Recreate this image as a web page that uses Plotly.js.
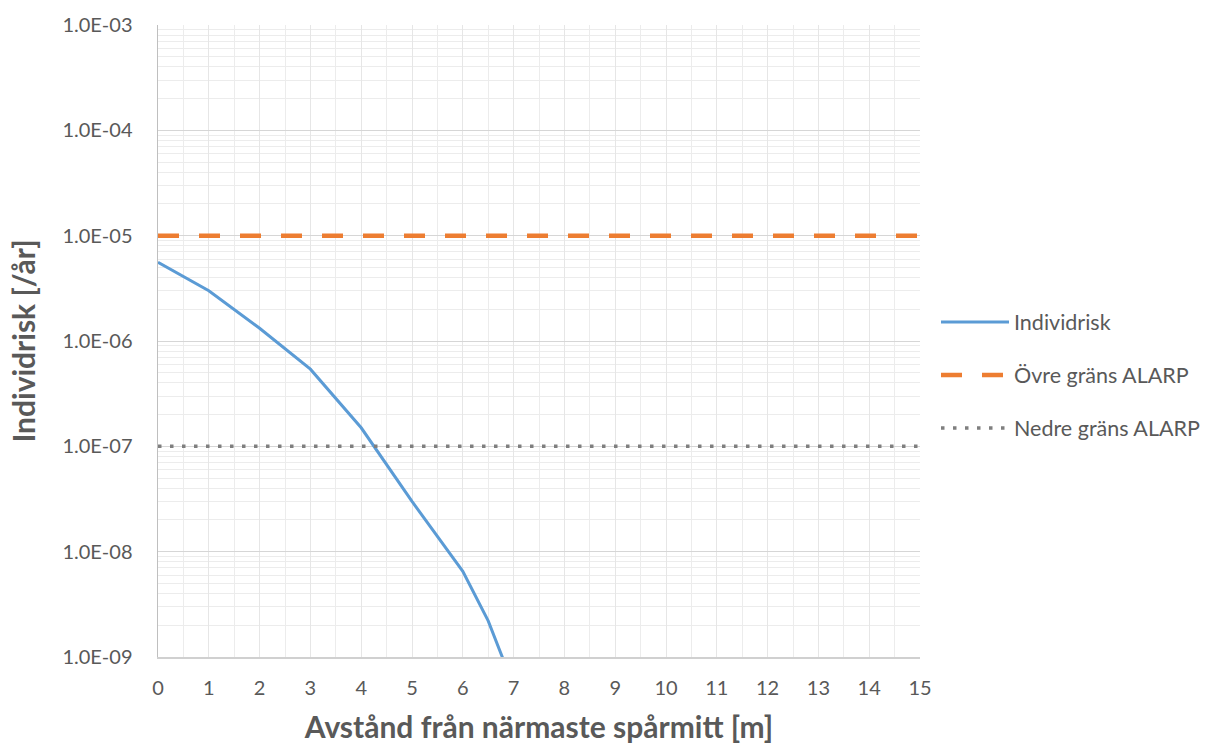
<!DOCTYPE html>
<html>
<head>
<meta charset="utf-8">
<script src="https://cdn.plot.ly/plotly-3.0.1.min.js"></script>
<style>html,body{margin:0;padding:0;background:#fff;}#chart{width:1207px;height:744px;}</style>
</head>
<body>
<div id="chart"></div>
<script>
// Data
const distance = [0, 1, 2, 3, 4, 5, 6, 6.5, 7];
const individrisk = [5.6e-6, 3.0e-6, 1.32e-6, 5.4e-7, 1.5e-7, 3.0e-8, 6.5e-9, 2.2e-9, 5.3e-10];
const limitX = [0, 15];
const ovreGrans = [1e-5, 1e-5];
const nedreGrans = [1e-7, 1e-7];
const yTickVals = [1e-9, 1e-8, 1e-7, 1e-6, 1e-5, 1e-4, 1e-3];
const yTickText = ["1.0E-09", "1.0E-08", "1.0E-07", "1.0E-06", "1.0E-05", "1.0E-04", "1.0E-03"];
const seriesNames = ["Individrisk", "Övre gräns ALARP", "Nedre gräns ALARP"];

const minorVals = [];
for (let e = -9; e < -3; e++) {
  for (let m = 2; m <= 9; m++) minorVals.push(m * Math.pow(10, e));
}

const fontFam = "Lato, 'Open Sans', sans-serif";
const grey = "#595959";

const traces = [
  {x: distance, y: individrisk, name: seriesNames[0], mode: "lines", legendgroup: "a",
   line: {color: "#5b9bd5", width: 3}},
  {x: limitX, y: ovreGrans, name: seriesNames[1], mode: "lines", legendgroup: "b",
   line: {color: "#ed7d31", width: 4.5, dash: "21px,20px"}},
  {x: limitX, y: nedreGrans, name: seriesNames[2], mode: "lines", legendgroup: "c",
   line: {color: "#7f7f7f", width: 3.5, dash: "3.5px,8.5px"}}
];

const layout = {
  width: 1207, height: 744,
  margin: {l: 158, r: 287, t: 25, b: 87, pad: 0, autoexpand: false},
  paper_bgcolor: "#fff", plot_bgcolor: "#fff",
  font: {family: fontFam, color: grey, size: 20},
  showlegend: true,
  legend: {x: 1.021, xanchor: "left", y: 0.446, yanchor: "middle",
           font: {size: 21.5, color: grey, family: fontFam}, tracegroupgap: 22, itemwidth: 68},
  xaxis: {
    range: [0, 15], dtick: 1, tick0: 0, showgrid: true, gridcolor: "#e6e6e6", gridwidth: 1,
    zeroline: false, showline: true, linecolor: "#d0d0d0", linewidth: 1.5,
    ticks: "", ticklabelstandoff: 12, tickfont: {size: 20, color: grey},
    minor: {dtick: 0.5, tick0: 0, showgrid: true, gridcolor: "#ececec", gridwidth: 1},
    title: {text: "Avstånd från närmaste spårmitt [m]", font: {size: 30, color: grey, family: fontFam, weight: "bold"}, standoff: 22}
  },
  yaxis: {
    type: "log", range: [-9, -3], tickmode: "array", tickvals: yTickVals, ticktext: yTickText,
    showgrid: true, gridcolor: "#d6d6d6", gridwidth: 1, zeroline: false,
    showline: true, linecolor: "#bfbfbf", linewidth: 1.5,
    ticks: "", ticklabelstandoff: 20, tickfont: {size: 20, color: grey},
    minor: {tickmode: "array", tickvals: minorVals, showgrid: true, gridcolor: "#ececec", gridwidth: 1},
    title: {text: "Individrisk [/år]", font: {size: 30, color: grey, family: fontFam, weight: "bold"}, standoff: 18}
  }
};

Plotly.newPlot("chart", traces, layout, {displayModeBar: false, staticPlot: true});
</script>
</body>
</html>
